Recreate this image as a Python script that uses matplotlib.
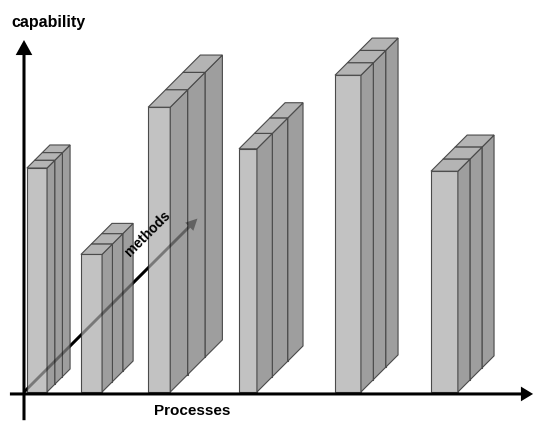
import matplotlib
matplotlib.use("Agg")
import matplotlib.pyplot as plt
from matplotlib.patches import Polygon, Rectangle

# capability of each process; every process is evaluated with three methods
processes = ["Process 1", "Process 2", "Process 3", "Process 4", "Process 5", "Process 6"]
capability = [7.0, 4.3, 8.9, 7.6, 9.9, 6.9]
methods = ["Method 1", "Method 2", "Method 3"]

# layout of the box stacks (axis units)
bar_left = [0.09, 1.78, 3.88, 6.72, 9.72, 12.72]
bar_width = [0.63, 0.66, 0.69, 0.56, 0.81, 0.84]
stack_depth = [0.72, 0.97, 1.63, 1.44, 1.16, 1.13]

FRONT = "#c2c2c2"
SIDE = "#9e9e9e"
TOP = "#b4b4b4"
EDGE = "#4a4a4a"

fig = plt.figure(figsize=(5.35, 4.25), dpi=100)
ax = fig.add_axes([0, 0, 1, 1])
ax.set_xlim(-0.75, 15.97)
ax.set_ylim(-1.03, 12.25)
ax.axis("off")

# methods axis drawn underneath the boxes
arrow_kw = dict(width=0.09, head_width=0.36, head_length=0.36,
                length_includes_head=True, linewidth=0)
ax.arrow(0, 0, 5.42, 5.42, color="black", zorder=1, **arrow_kw)


def draw_box(x, off, w, d, h, z):
    x0 = x + off
    y0 = off
    kw = dict(edgecolor=EDGE, linewidth=0.8, zorder=z, joinstyle="miter")
    ax.add_patch(Rectangle((x0, y0), w, h, facecolor=FRONT, **kw))
    ax.add_patch(Polygon([(x0 + w, y0), (x0 + w + d, y0 + d),
                          (x0 + w + d, y0 + d + h), (x0 + w, y0 + h)],
                         closed=True, facecolor=SIDE, **kw))
    ax.add_patch(Polygon([(x0, y0 + h), (x0 + w, y0 + h),
                          (x0 + w + d, y0 + d + h), (x0 + d, y0 + d + h)],
                         closed=True, facecolor=TOP, **kw))


n_methods = len(methods)
for i, h in enumerate(capability):
    d = stack_depth[i] / n_methods
    # back boxes first so the front ones cover them
    for k in reversed(range(n_methods)):
        draw_box(bar_left[i], k * d, bar_width[i], d, h, z=2 + (n_methods - k))

# methods axis seen through the boxes
ax.arrow(0, 0, 5.42, 5.42, color="black", alpha=0.38, zorder=10, **arrow_kw)

# main axes
ax.arrow(-0.44, -0.06, 16.35, 0, width=0.095, head_width=0.46, head_length=0.38,
         length_includes_head=True, color="black", linewidth=0, zorder=12)
ax.arrow(0, -0.88, 0, 11.88, width=0.095, head_width=0.52, head_length=0.47,
         length_includes_head=True, color="black", linewidth=0, zorder=12)

font = ["Liberation Sans", "DejaVu Sans"]
ax.text(-0.38, 11.55, "capability", family=font, fontweight="bold", fontsize=11.5,
        ha="left", va="center", zorder=13)
ax.text(5.25, -0.6, "Processes", family=font, fontweight="bold", fontsize=11,
        ha="center", va="center", zorder=13)
ax.text(3.86, 4.94, "methods", family=font, fontweight="bold", fontsize=10,
        rotation=45, rotation_mode="anchor", ha="center", va="center", zorder=13)

fig.savefig("out.png", dpi=100)
